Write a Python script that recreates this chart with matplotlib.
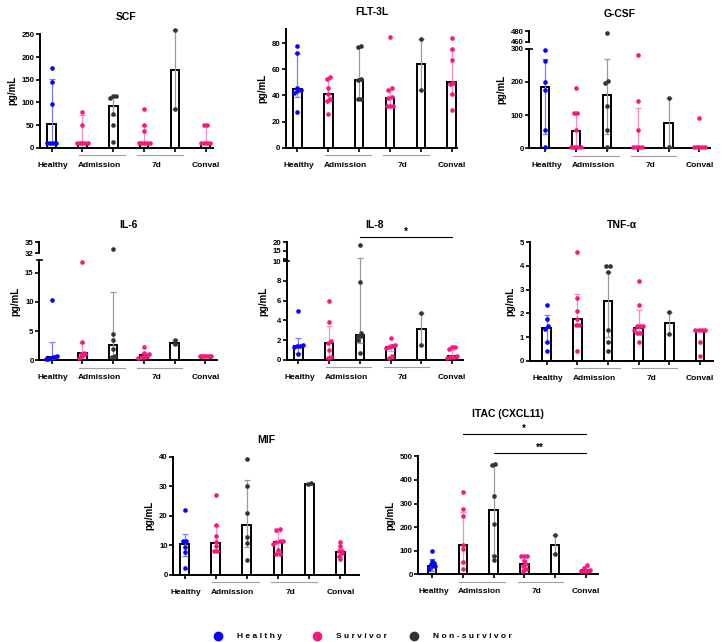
import matplotlib
matplotlib.use("Agg")
import matplotlib.pyplot as plt
from matplotlib.lines import Line2D
import numpy as np

plt.rcParams['font.family'] = ['Liberation Sans', 'DejaVu Sans']
plt.rcParams['font.weight'] = 'bold'

BLUE = '#0505ff'
PINK = '#f8177c'
DARK = '#333333'
LBLUE = '#7a7aff'
LPINK = '#ff8cbd'
GRAY = '#9a9a9a'

dot_colors = [BLUE, PINK, DARK, PINK, DARK, PINK]
err_colors = [LBLUE, LPINK, GRAY, LPINK, GRAY, LPINK]
groups = ['Healthy', 'Admission', '7d', 'Conval']
legend_labels = ['H e a l t h y', 'S u r v i v o r', 'N o n - s u r v i v o r']

# bars: Healthy, Adm-survivor, Adm-nonsurvivor, 7d-survivor, 7d-nonsurvivor, Conval
scf_bar = [52, 9.6, 92, 9.6, 171, 9.6]
scf_lo = [9.6, 9.6, 72, 9.6, 86, 9.6]
scf_hi = [152, 72, 112, 47, 259, 49]
scf_pts = [[176, 146, 96, 9.6, 9.6, 9.6, 9.6],
           [79, 49, 9.6, 9.6, 9.6, 9.6, 9.6],
           [115, 113, 110, 75, 49, 12],
           [86, 49, 36, 9.6, 9.6, 9.6, 9.6, 9.6],
           [259, 86],
           [49, 49, 9.6, 9.6, 9.6, 9.6]]

flt_bar = [44.7, 40.9, 52, 38.3, 64, 50]
flt_lo = [38.6, 36, 37, 33, 44.5, 41]
flt_hi = [72.8, 53, 77, 45, 83.5, 75]
flt_pts = [[78, 72.5, 46, 44.5, 43.5, 42, 27.5],
           [54, 53, 46, 41, 37, 35.5, 25.6],
           [78, 77, 53, 52, 37, 37],
           [85, 45.5, 44, 39, 38, 32, 32, 32],
           [83.5, 44.5],
           [84, 75.5, 67.5, 49.5, 49, 41, 28.5]]

gcsf_bar = [185, 53, 161.5, 5, 75, 5]
gcsf_lo = [43, 5, 43, 5, 5, 5]
gcsf_hi = [270, 105, 270, 120, 150, 5]
gcsf_pts = [[297, 263, 200, 175, 55, 5],
            [180, 106, 106, 56, 5, 5, 5, 5],
            [477, 203, 198, 127, 56, 5],
            [280, 142, 56, 5, 5, 5, 5],
            [150, 5],
            [90, 5, 5, 5, 5, 5]]

il6_bar = [0.5, 1.2, 2.7, 0.85, 3.0, 0.8]
il6_lo = [0.3, 0.8, 0.7, 0.5, 2.8, 0.8]
il6_hi = [3.1, 2.9, 11.7, 1.3, 3.4, 0.8]
il6_pts = [[10.3, 0.8, 0.6, 0.5, 0.4, 0.3, 0.2],
           [16.8, 3.2, 1.3, 1.1, 1.0, 0.8, 0.4],
           [33.2, 4.5, 3.5, 2.0, 0.7, 0.6],
           [2.3, 1.2, 1.0, 0.8, 0.6, 0.5, 0.4],
           [3.5, 2.8],
           [0.8, 0.8, 0.8, 0.8, 0.8, 0.8]]

il8_bar = [1.45, 1.7, 2.5, 1.35, 3.15, 0.4]
il8_lo = [0.7, 0.3, 1.7, 0.9, 1.55, 0.2]
il8_hi = [2.25, 3.4, 11.0, 1.6, 4.75, 1.0]
il8_pts = [[5.0, 1.5, 1.4, 1.4, 1.3, 0.6],
           [6.0, 3.85, 1.9, 1.75, 1.0, 0.3, 0.2],
           [18.4, 7.9, 2.7, 2.45, 2.4, 2.07, 0.7],
           [2.2, 1.5, 1.4, 1.3, 1.2, 0.4, 0.2],
           [4.75, 1.55],
           [1.3, 1.3, 1.1, 0.4, 0.3, 0.3, 0.2]]

tnf_bar = [1.37, 1.77, 2.52, 1.37, 1.6, 1.3]
tnf_lo = [0.8, 1.5, 1.0, 1.15, 1.14, 1.3]
tnf_hi = [1.93, 2.8, 3.75, 2.15, 2.07, 1.3]
tnf_pts = [[2.35, 1.78, 1.45, 1.32, 0.78, 0.42],
           [4.57, 2.65, 2.08, 1.77, 1.5, 1.5, 0.42],
           [4.02, 4.02, 3.75, 1.3, 0.78, 0.42],
           [3.35, 2.37, 1.45, 1.45, 1.45, 1.3, 1.15, 1.15, 0.8],
           [2.07, 1.14],
           [1.3, 1.3, 1.3, 1.3, 0.8, 0.2]]

mif_bar = [10.3, 10.9, 16.8, 11.2, 30.8, 7.7]
mif_lo = [6.2, 8.0, 9.3, 8.0, 30.6, 6.0]
mif_hi = [14, 16.7, 32.3, 14.5, 31.0, 9.0]
mif_pts = [[22, 11.5, 11.5, 9.5, 7.6, 2.3],
           [27, 17, 13.3, 11.0, 9.6, 8.2, 8.0],
           [39.3, 30, 21, 12.7, 10.8, 5.0],
           [15.5, 15.3, 11.5, 11.5, 11.2, 10.5, 8.5, 7, 7],
           [31, 30.8],
           [11.1, 9.6, 8.0, 8.0, 7.5, 6.5, 5.3]]

itac_bar = [37, 123, 273, 42, 126, 17]
itac_lo = [15, 50, 80, 22, 88, 8]
itac_hi = [65, 265, 462, 60, 166, 30]
itac_pts = [[100, 58, 50, 42, 36, 34, 22],
            [350, 275, 248, 125, 108, 53, 22],
            [468, 462, 330, 215, 78, 60],
            [78, 78, 78, 55, 45, 35, 22, 15],
            [166, 88],
            [40, 28, 20, 15, 12, 12]]

W, H = 722, 642
fig = plt.figure(figsize=(W / 100, H / 100), dpi=100)


def piecewise(xp, fp):
    xp = np.array(xp, float)
    fp = np.array(fp, float)
    fwd = lambda v: np.interp(v, xp, fp)
    inv = lambda v: np.interp(v, fp, xp)
    return fwd, inv


# name, data, rect px (left, top, right, bottom), xlim, ylim, yticks, breaks
panels = [
    dict(name='SCF', bar=scf_bar, lo=scf_lo, hi=scf_hi, pts=scf_pts,
         rect=(40, 33.5, 213, 147.7), xlim=(-0.38, 5.24), ylim=(0, 252),
         ticks=[0, 50, 100, 150, 200, 250]),
    dict(name='FLT-3L', bar=flt_bar, lo=flt_lo, hi=flt_hi, pts=flt_pts,
         rect=(286, 29.3, 457, 147.7), xlim=(-0.37, 5.17), ylim=(0, 90.7),
         ticks=[0, 20, 40, 60, 80]),
    dict(name='G-CSF', bar=gcsf_bar, lo=gcsf_lo, hi=gcsf_hi, pts=gcsf_pts,
         rect=(529.3, 31, 710, 148.3), xlim=(-0.51, 5.34), ylim=(0, 480),
         ticks=[0, 100, 200, 300, 460, 480],
         scale=piecewise([-1000, 0, 300, 460, 480, 2000], [-1000, 0, 300, 321, 353, 2785]),
         segs=[(0, 300), (460, 480)]),
    dict(name='IL-6', bar=il6_bar, lo=il6_lo, hi=il6_hi, pts=il6_pts,
         rect=(39.3, 242.3, 216.7, 360.3), xlim=(-0.40, 5.37), ylim=(0, 35),
         ticks=[0, 5, 10, 15, 32, 35],
         scale=piecewise([-100, 0, 17.1, 32, 35, 100], [-100, 0, 17.1, 18.3, 20.2, 60.9]),
         segs=[(0, 17.1), (32, 35)]),
    dict(name='IL-8', bar=il8_bar, lo=il8_lo, hi=il8_hi, pts=il8_pts,
         rect=(286.7, 242.3, 463, 360), xlim=(-0.38, 5.36), ylim=(0, 20),
         ticks=[0, 2, 4, 6, 8, 10, 10.001, 15, 20],
         ticklabels=['0', '2', '4', '6', '8', '10', '', '15', '20'],
         scale=piecewise([-100, 0, 10, 10.001, 20, 100], [-100, 0, 10, 10.18, 11.9, 25.5]),
         segs=[(0, 10), (10.001, 20)], sig=[(2, 5, 1.047, '*')]),
    dict(name='TNF-α', bar=tnf_bar, lo=tnf_lo, hi=tnf_hi, pts=tnf_pts,
         rect=(530, 242.3, 713, 360.7), xlim=(-0.54, 5.42), ylim=(0, 5),
         ticks=[0, 1, 2, 3, 4, 5]),
    dict(name='MIF', bar=mif_bar, lo=mif_lo, hi=mif_hi, pts=mif_pts,
         rect=(173.3, 457, 359, 574.7), xlim=(-0.36, 5.6), ylim=(0, 40),
         ticks=[0, 10, 20, 30, 40]),
    dict(name='ITAC (CXCL11)', bar=itac_bar, lo=itac_lo, hi=itac_hi, pts=itac_pts,
         rect=(418.3, 456.3, 598, 574.3), xlim=(-0.45, 5.4), ylim=(0, 500),
         ticks=[0, 100, 200, 300, 400, 500],
         sig=[(1, 5, 1.189, '*'), (2, 5, 1.028, '**')], title_px=414),
]


def spread(vals, center, fwd, tol):
    # put dots of about the same value side by side
    v = fwd(np.asarray(vals, float))
    xs = np.full(len(v), float(center))
    order = np.argsort(v)
    clusters = []
    for i in order:
        if clusters and abs(v[i] - v[clusters[-1][0]]) < tol:
            clusters[-1].append(i)
        else:
            clusters.append([i])
    for c in clusters:
        n = len(c)
        if n > 1:
            step = min(0.1, 0.36 / (n - 1))
            xs[c] = center + (np.arange(n) - (n - 1) / 2) * step
    return xs


for p in panels:
    l, t, r, b = p['rect']
    ax = fig.add_axes([l / W, 1 - b / H, (r - l) / W, (b - t) / H])
    h_px = b - t
    if 'scale' in p:
        ax.set_yscale('function', functions=p['scale'])
        fwd = p['scale'][0]
    else:
        fwd = lambda v: np.asarray(v, float)
    ax.set_xlim(*p['xlim'])
    ax.set_ylim(*p['ylim'])

    x = np.arange(6)
    ax.bar(x, p['bar'], width=0.28, color='white', edgecolor='black', linewidth=1.4, zorder=2)
    for i in range(6):
        ax.errorbar(x[i], p['bar'][i],
                    yerr=[[p['bar'][i] - p['lo'][i]], [p['hi'][i] - p['bar'][i]]],
                    fmt='none', ecolor=err_colors[i], elinewidth=0.9, capsize=2.2,
                    capthick=0.9, zorder=3, clip_on=False)
    rng = fwd(p['ylim'][1]) - fwd(p['ylim'][0])
    for i in range(6):
        xs = spread(p['pts'][i], x[i], fwd, 0.03 * rng)
        ax.scatter(xs, p['pts'][i], s=11, color=dot_colors[i], zorder=4,
                   linewidths=0, clip_on=False)

    for s in ['top', 'right']:
        ax.spines[s].set_visible(False)
    ax.spines['left'].set_linewidth(1.4)
    ax.spines['bottom'].set_linewidth(1.4)
    ax.set_yticks(p['ticks'])
    ax.set_yticklabels(p.get('ticklabels', [str(v) for v in p['ticks']]))
    ax.set_xticks(x)
    ax.set_xticklabels([])
    ax.tick_params(axis='both', direction='out', length=2.6, width=1.2,
                   labelsize=5.6, pad=1.5)
    ax.set_ylabel('pg/mL', fontsize=7, fontweight='bold', labelpad=3)

    if 'segs' in p:
        ax.spines['left'].set_visible(False)
        tr = ax.get_yaxis_transform()
        for lo_s, hi_s in p['segs']:
            ax.plot([0, 0], [lo_s, hi_s], color='black', lw=1.4, transform=tr,
                    clip_on=False, solid_capstyle='projecting')
        cap_w = 2.5 / (r - l)
        top_of_low = p['segs'][0][1]
        ax.plot([-cap_w, cap_w], [top_of_low, top_of_low], color='black', lw=1.2,
                transform=tr, clip_on=False)

    # group labels and lines under the x axis
    xt = ax.get_xaxis_transform()
    dy_line = -7.5 / h_px
    for a, bb in [(0.89, 2.38), (2.78, 4.25)]:
        ax.plot([a, bb], [dy_line, dy_line], color='#a0a0a0', lw=0.8,
                transform=xt, clip_on=False)
    dy_lab = -17.5 / h_px
    for pos, lab in zip([0.05, 1.55, 3.4, 5.0], groups):
        ax.text(pos, dy_lab, lab, transform=xt, ha='center', va='center',
                fontsize=6, fontweight='bold')

    title_px = p.get('title_px', t - 17)
    ax.text(0.5, 1 + (t - title_px) / h_px, p['name'], transform=ax.transAxes,
            ha='center', va='center', fontsize=7.5, fontweight='bold')

    for x0, x1, yy, star in p.get('sig', []):
        ax.plot([x0, x1], [yy, yy], color='black', lw=0.8, transform=xt, clip_on=False)
        ax.text((x0 + x1) / 2, yy + 5 / h_px, star, transform=xt, ha='center',
                va='center', fontsize=7, fontweight='bold')

# legend
for xm, lab, c in zip([218, 317, 414], legend_labels, [BLUE, PINK, DARK]):
    fig.add_artist(Line2D([xm / W], [1 - 636 / H], marker='o', markersize=6,
                          color=c, linestyle='none', transform=fig.transFigure))
    fig.text((xm + 19) / W, 1 - 637 / H, lab, ha='left', va='center',
             fontsize=6, fontweight='bold')

fig.savefig('out.png', dpi=100)
